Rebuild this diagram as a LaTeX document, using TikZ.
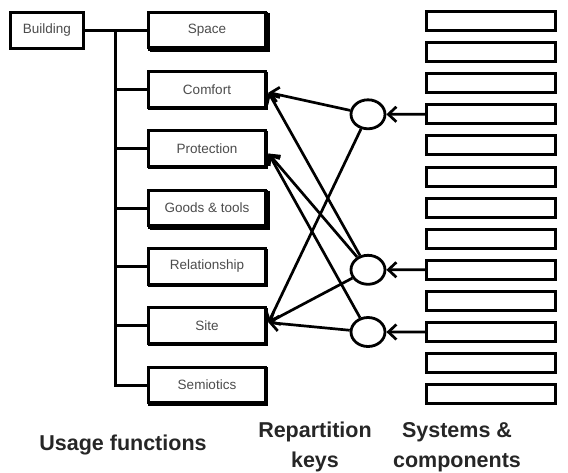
\documentclass[tikz,border=0pt]{standalone}
\usepackage{fontspec}
\setmainfont{Liberation Sans}
\usetikzlibrary{arrows.meta,shapes.geometric,calc,shadows}
\begin{document}
\begin{tikzpicture}[x=1pt,y=-1pt,
  ubox/.style={draw, fill=white, line width=3pt, minimum width=117pt, minimum height=35.5pt, inner sep=0pt,
    font=\fontsize{13.5}{15}\selectfont, text=black!70,
    copy shadow={shadow xshift=1.4pt, shadow yshift=-1.4pt}},
  bigshadow/.style={copy shadow={shadow xshift=2.6pt, shadow yshift=-2.6pt}},
  bbox/.style={draw, fill=white, line width=3pt, minimum width=73.5pt, minimum height=36pt, inner sep=0pt,
    font=\fontsize{13.5}{15}\selectfont, text=black!70},
  comp/.style={draw, fill=white, line width=3pt, minimum width=129pt, minimum height=19pt, inner sep=0pt},
  rkey/.style={draw, fill=white, ellipse, line width=2.8pt, minimum width=34pt, minimum height=29pt, inner sep=0pt},
  tree/.style={line width=3pt},
  arr/.style={line width=2.7pt, -{Straight Barb[length=8pt,width=15pt]}},
  lbl/.style={font=\bfseries\fontsize{21.5}{30}\selectfont, text=black!85, align=center}
]
\useasboundingbox (0,0) rectangle (568,472);

% usage function tree
\node[bbox] (building) at (47,30) {Building};
\coordinate (trunk) at (115,30);
\node[ubox,bigshadow] (space) at (207,30) {Space};
\node[ubox] (comfort) at (207,89.5) {Comfort};
\node[ubox] (protection) at (207,148.5) {Protection};
\node[ubox,bigshadow] (goods) at (207,208) {Goods \& tools};
\node[ubox] (relation) at (207,266.5) {Relationship};
\node[ubox] (site) at (207,325.5) {Site};
\node[ubox] (semiotics) at (207,385) {Semiotics};

\draw[tree] (building.east) -- (space.west);
\draw[tree] (trunk) |- (semiotics.west);
\foreach \b in {comfort,protection,goods,relation,site}
  \draw[tree] (trunk |- \b.west) -- (\b.west);

% systems & components
\foreach \i in {0,...,12}
  \node[comp] (c\i) at (491,{21+31.1*\i}) {};

% repartition keys
\node[rkey] (k1) at (368,114.3) {};
\node[rkey] (k2) at (368,269.8) {};
\node[rkey] (k3) at (368,332) {};

\draw[arr] (c3.west) -- (k1.east);
\draw[arr] (c8.west) -- (k2.east);
\draw[arr] (c10.west) -- (k3.east);

\draw[arr] (k1) -- ($(comfort.east)+(1.5,3)$);
\draw[arr] (k1) -- ($(site.east)+(1.5,-3)$);
\draw[arr] (k2) -- ($(comfort.east)+(1.5,3)$);
\draw[arr] (k2) -- ($(protection.east)+(1.5,5)$);
\draw[arr] (k2) -- ($(site.east)+(1.5,-3)$);
\draw[arr] (k3) -- ($(protection.east)+(1.5,5)$);
\draw[arr] (k3) -- ($(site.east)+(1.5,-3)$);

% labels
\node[lbl] (uf) at (123,445) {Usage functions};
\node[lbl] (rk) at (315,447) {Repartition\\keys};
\node[lbl] (sc) at (457,447) {Systems \&\\components};
\end{tikzpicture}
\end{document}
